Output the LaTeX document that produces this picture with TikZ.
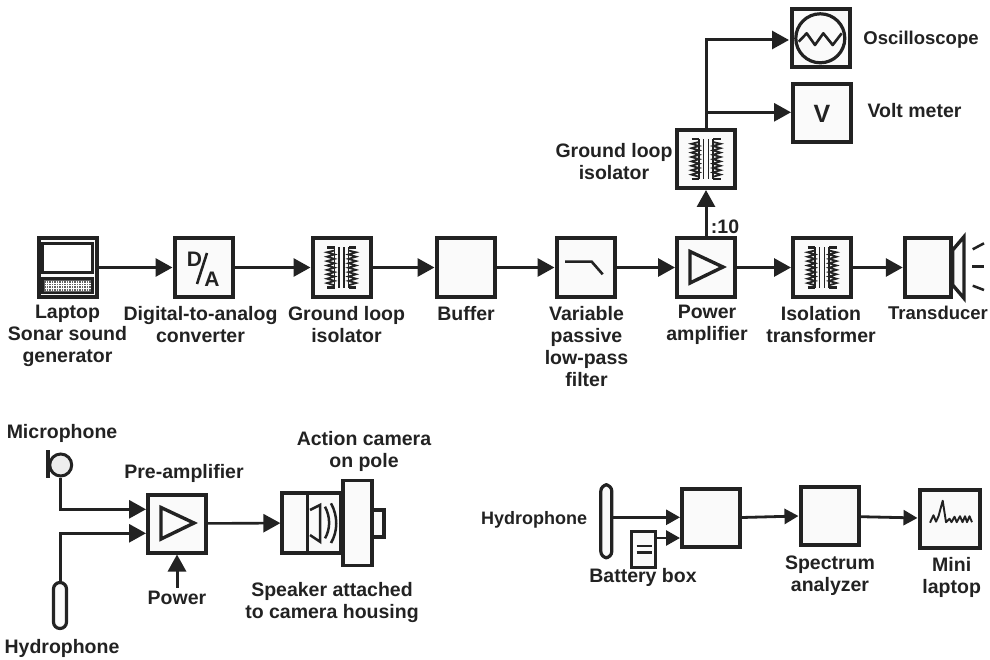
\documentclass[tikz,border=0pt]{standalone}
\usepackage{fontspec}
\setmainfont{Liberation Sans}
\usetikzlibrary{arrows.meta,calc}
\definecolor{ink}{HTML}{222222}
\definecolor{boxfill}{HTML}{FAFAFA}
\tikzset{
  blockbox/.style={draw=ink,fill=boxfill,line width=4pt,minimum width=58pt,minimum height=58pt,inner sep=0pt},
  lab/.style={text=ink,align=center,inner sep=0pt,font=\bfseries\fontsize{19.5}{22}\selectfont},
  conn/.style={draw=ink,line width=3pt,-{Triangle[length=17pt,width=18pt]}},
  smallconn/.style={draw=ink,line width=2.8pt,-{Triangle[length=14pt,width=15pt]}},
  icon/.style={draw=ink,line width=3pt},
  thinicon/.style={draw=ink,line width=2pt},
  probe/.style={draw=ink,fill=boxfill,line width=3.2pt,rounded corners=6.5pt,inner sep=0pt}
}
\newcommand{\xfmrhalf}{%
  \draw[thinicon,line width=2.4pt] (-14.5,-20) -- (-7,-20);
  \draw[thinicon,line width=2.4pt] (-14.5,20) -- (-7,20);
  \draw[thinicon,line width=1.6pt] (-7,-20) -- (-7,20);
  \draw[thinicon,line width=1.8pt] (-7,-17) \foreach \k in {0,...,7} { -- ({-14.5},{-15.2+\k*4.4}) -- (-7,{-13+\k*4.4}) };
  \draw[thinicon,line width=1.6pt] (-2.5,-20) -- (-2.5,20);
}
\newcommand{\xfmrsym}[1]{%
  \begin{scope}[shift={(#1)}]
    \xfmrhalf
    \begin{scope}[xscale=-1]\xfmrhalf\end{scope}
  \end{scope}}
\newcommand{\ampsym}[1]{%
  \draw[icon,line width=3.4pt,line join=miter,fill=none,shift={(#1)}] (-16,-16) -- (-16,15.5) -- (17,-0.5) -- cycle;}
\begin{document}
\begin{tikzpicture}[x=1pt,y=-1pt]
\useasboundingbox[fill=white] (0,0) rectangle (990,660);
% --- main chain boxes
\node[blockbox] (laptop) at (67.5,267.5) {};
\node[blockbox] (da) at (203.5,267.5) {};
\node[blockbox] (iso1) at (341.5,267.5) {};
\node[blockbox] (buffer) at (465.5,267.5) {};
\node[blockbox] (filter) at (585.5,267.5) {};
\node[blockbox] (pamp) at (706,267.5) {};
\node[blockbox] (isot) at (822,267.5) {};
\node[draw=ink,fill=boxfill,line width=4pt,minimum width=46.5pt,minimum height=58pt,inner sep=0pt] (trans) at (928,267.5) {};
% --- top branch
\node[blockbox] (iso2) at (706,159) {};
\node[blockbox] (osc) at (820.5,38) {};
\node[blockbox] (volt) at (822,113.5) {};
% --- laptop icon
\draw[icon,line width=2.8pt,fill=white] (42.7,243.7) rectangle (92.7,272.7);
\draw[icon,line width=2.6pt,fill=ink!70] (42.7,278.5) rectangle (92.7,293);
\foreach \q in {46,48.5,...,90} \draw[white,line width=0.5pt] (\q,281) -- (\q,291);
\foreach \q in {283,285.5,288} \draw[white,line width=0.5pt] (45,\q) -- (90.5,\q);
% --- D/A icon
\node[text=ink,inner sep=0pt,font=\bfseries\fontsize{21}{21}\selectfont] (dl) at (194.5,259.5) {D};
\node[text=ink,inner sep=0pt,font=\bfseries\fontsize{21}{21}\selectfont] (al) at (212,279) {A};
\draw[icon,line width=2.6pt] (207,253) -- (197,284);
% --- transformer symbols
\xfmrsym{iso1.center}
\xfmrsym{iso2.center}
\xfmrsym{isot.center}
% --- filter icon
\draw[icon,line width=2.6pt] (565,261.7) -- (591.7,261.7) -- (602.7,274.3);
% --- amp icons
\ampsym{pamp.center}
% --- transducer
\draw[icon,line width=3.4pt,fill=boxfill,line join=miter] (952.7,250) -- (964,236.7) -- (964,298.3) -- (952.7,285) -- cycle;
\draw[thinicon,line width=2.5pt] (972.7,249.3) -- (984,243.3);
\draw[thinicon,line width=2.5pt] (972,266.7) -- (984,266.7);
\draw[thinicon,line width=2.5pt] (972.7,285.7) -- (984,290);
% --- oscilloscope + volt icon
\node[circle,draw=ink,line width=3.2pt,minimum size=49pt,inner sep=0pt] (scope) at (820.3,38.3) {};
\draw[thinicon,line width=2.6pt,line join=round] (798.7,41.7) -- (806.7,33.3) -- (815,45) -- (823.3,33.3) -- (832.7,45) -- (841.7,33.3);
\node[text=ink,inner sep=0pt,font=\bfseries\fontsize{25}{25}\selectfont] (vl) at (822,113.5) {V};
% --- main connectors
\draw[conn] (laptop) -- (da);
\draw[conn] (da) -- (iso1);
\draw[conn] (iso1) -- (buffer);
\draw[conn] (buffer) -- (filter);
\draw[conn] (filter) -- (pamp);
\draw[conn] (pamp) -- (isot);
\draw[conn] (isot) -- (trans);
\draw[conn] (pamp) -- (iso2);
\coordinate (oscin) at (789,40);
\coordinate (voltin) at (791,112.3);
\draw[conn] (iso2.north) |- (oscin);
\draw[conn] (iso2.north) |- (voltin);
% --- main labels
\node[lab] (tlaptop) at (67.5,336) {Laptop\\Sonar sound\\generator};
\node[lab] (tda) at (200.5,325) {Digital-to-analog\\converter};
\node[lab] (tiso1) at (346.5,325) {Ground loop\\isolator};
\node[lab] (tbuf) at (466,314) {Buffer};
\node[lab] (tfilt) at (586.5,347) {Variable\\passive\\low-pass\\filter};
\node[lab] (tpamp) at (707,325) {Power\\amplifier};
\node[lab] (tisot) at (821,325) {Isolation\\transformer};
\node[lab,font=\bfseries\fontsize{18.5}{22}\selectfont] (ttrans) at (938,313) {Transducer};
\node[lab] (t10) at (725,227) {:10};
\node[lab] (tiso2) at (614,162) {Ground loop\\isolator};
\node[lab,font=\bfseries\fontsize{18.5}{22}\selectfont] (tosc) at (921,40) {Oscilloscope};
\node[lab] (tvolt) at (914.5,111) {Volt meter};
% --- bottom left
\node[blockbox] (pre) at (177,523.5) {};
\ampsym{pre.center}
\node[circle,draw=ink,fill=black!7,line width=3pt,minimum size=22pt,inner sep=0pt] (mic) at (60.7,465) {};
\draw[draw=ink,line width=4pt] (48,450) -- (48,477.5);
\draw[draw=ink,line width=3pt] (48,465) -- (mic.west);
\node[probe,minimum width=13pt,minimum height=46pt] (hyd1) at (60,605.5) {};
\coordinate (prea) at (146,509.3);
\coordinate (preb) at (146,533.3);
\draw[conn] (mic.south) |- (prea);
\draw[conn] (hyd1.north) |- (preb);
\coordinate (pwr) at (177,587.7);
\draw[conn] (pwr) -- (pre.south);
% camera
\draw[icon,line width=3.4pt,fill=boxfill] (372.7,510) rectangle (384,537);
\node[draw=ink,fill=boxfill,line width=3.6pt,minimum width=29pt,minimum height=85pt,inner sep=0pt] (plate) at (357.2,523) {};
\node[draw=ink,fill=boxfill,line width=3.6pt,minimum width=59pt,minimum height=60pt,inner sep=0pt] (house) at (311.7,523) {};
\draw[icon,line width=3.2pt] (307.7,492.7) -- (307.7,553.3);
\draw[icon,line width=2.5pt,line join=miter] (310,510) -- (320,505) -- (320,541.7) -- (310,535);
\draw[icon,line width=2.5pt] (325,506.7) .. controls (330.5,517) and (330.5,529) .. (325,538.3);
\draw[icon,line width=2.5pt] (331,503.3) .. controls (338,516) and (338,531) .. (331,543);
\draw[conn,line width=2.6pt] (pre) -- (house);
\node[lab] (tmic) at (62,433) {Microphone};
\node[lab] (thyd1) at (62,648) {Hydrophone};
\node[lab] (tpre) at (184,473) {Pre-amplifier};
\node[lab] (tpwr) at (177,598) {Power};
\node[lab] (tcam) at (364,451) {Action camera\\on pole};
\node[lab] (tspk) at (332,602) {Speaker attached\\to camera housing};
% --- bottom right
\node[blockbox] (preb2) at (710.8,518) {};
\node[blockbox] (spec) at (829.5,516) {};
\node[blockbox,minimum width=60pt] (mini) at (949.5,518.7) {};
\node[probe,minimum width=11pt,minimum height=73pt] (hyd2) at (606.3,521.3) {};
\node[draw=ink,fill=boxfill,line width=3.2pt,minimum width=24pt,minimum height=36pt,inner sep=0pt] (batt) at (643.6,549.5) {};
\draw[icon,line width=2.6pt] (636.7,546) -- (651.7,546);
\draw[icon,line width=2.6pt] (636.7,552.7) -- (651.7,552.7);
\coordinate (ba) at (680,517.3);
\coordinate (bb) at (680,538);
\coordinate (hout) at (hyd2.east |- ba);
\coordinate (bout) at (batt.east |- bb);
\draw[smallconn] (hout) -- (ba);
\draw[smallconn] (bout) -- (bb);
\draw[smallconn] (preb2.east) ++(0,-0.5) -- (spec.west);
\draw[smallconn] (spec) -- (mini);
\begin{scope}[shift={(mini.center)}]
\draw[thinicon,line width=1.9pt,line join=round] (-19.5,4) -- (-16,-3.5) -- (-13.5,3) -- (-11,-2.5) -- (-6.8,-18) -- (-3.5,3.5) -- (0,0) -- (2,3.5) -- (5,-2) -- (7.2,3.5) -- (10.5,-2.5) -- (13,3.5) -- (15.5,-2.5) -- (17.5,3.5) -- (20,-2.5) -- (22.5,3.5);
\end{scope}
\node[lab,font=\bfseries\fontsize{18}{22}\selectfont] (thyd2) at (534,520) {Hydrophone};
\node[lab] (tbatt) at (643,577) {Battery box};
\node[lab] (tspec) at (830,576) {Spectrum\\analyzer};
\node[lab] (tmini) at (951.7,577) {Mini\\laptop};
\end{tikzpicture}
\end{document}
